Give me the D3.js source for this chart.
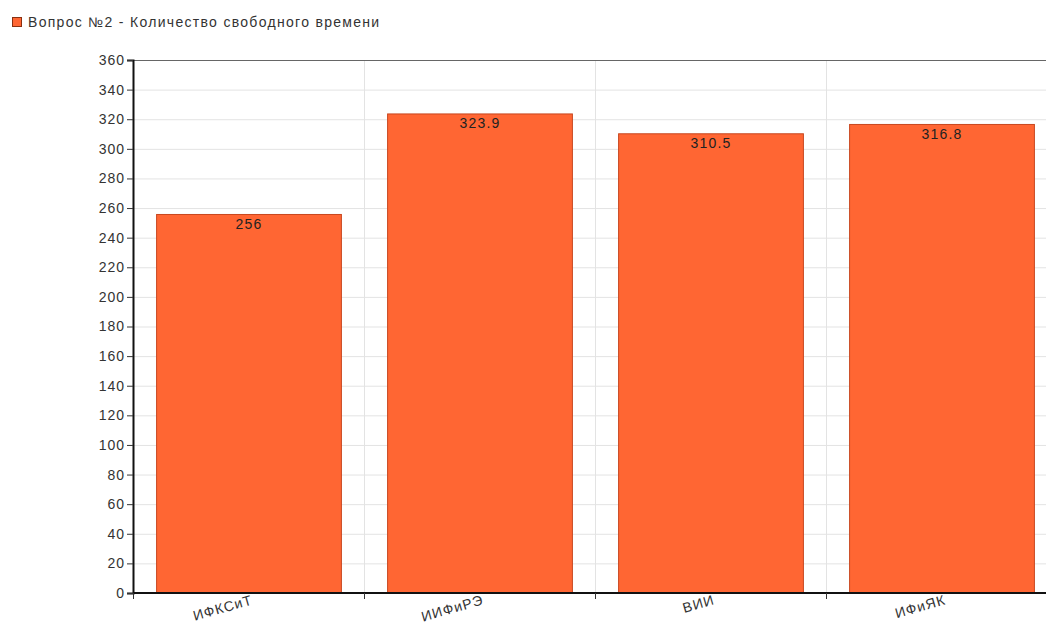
<!DOCTYPE html>
<html><head><meta charset="utf-8">
<script src="https://cdn.jsdelivr.net/npm/d3@7"></script>
<style>
html,body{margin:0;padding:0;background:#fff;overflow:hidden;}
svg{display:block;font-family:"Liberation Sans",Arial,sans-serif;}
</style></head>
<body>
<svg id="chart" width="1046" height="625"></svg>
<script>
const seriesName = "Вопрос №2 - Количество свободного времени";
const categories = ["ИФКСиТ", "ИИФиРЭ", "ВИИ", "ИФиЯК"];
const values = [256, 323.9, 310.5, 316.8];
const valueLabels = ["256", "323.9", "310.5", "316.8"];
const yTicks = d3.range(0, 361, 20);

const svg = d3.select("#chart");
const m = {left:133, top:60, right:1057, bottom:593};
const barColor = "#ff6633", barStroke = "#c8461e";

const x = d3.scaleBand().domain(categories).range([m.left, m.right]).paddingInner(0.2).paddingOuter(0.1);
const xb = d3.scaleLinear().domain([0, categories.length]).range([m.left, m.right]);
const y = d3.scaleLinear().domain([0, 360]).range([m.bottom, m.top]);

// grid
svg.append("g").selectAll("line.h").data(yTicks.slice(1)).join("line")
  .attr("x1", m.left).attr("x2", m.right).attr("y1", d=>y(d)+0.5).attr("y2", d=>y(d)+0.5)
  .attr("stroke", "#e3e3e3").attr("stroke-width", 1);
svg.append("g").selectAll("line.v").data(d3.range(1, categories.length+1)).join("line")
  .attr("x1", d=>xb(d)+0.5).attr("x2", d=>xb(d)+0.5).attr("y1", m.top).attr("y2", m.bottom)
  .attr("stroke", "#e3e3e3").attr("stroke-width", 1);

// top border
svg.append("line").attr("x1", m.left).attr("x2", m.right).attr("y1", m.top+0.5).attr("y2", m.top+0.5)
  .attr("stroke", "#666").attr("stroke-width", 1);

// bars
svg.append("g").selectAll("rect").data(values).join("rect")
  .attr("x", (d,i)=>x(categories[i])+0.5).attr("width", x.bandwidth())
  .attr("y", d=>y(d)+0.5).attr("height", d=>y(0)-y(d))
  .attr("fill", barColor).attr("stroke", barStroke).attr("stroke-width", 1);

// value labels
svg.append("g").selectAll("text").data(values).join("text")
  .attr("x", (d,i)=>x(categories[i])+x.bandwidth()/2+0.5).attr("y", d=>y(d)+15)
  .attr("text-anchor", "middle").attr("font-size", 14).attr("letter-spacing", 1.2).attr("fill", "#222")
  .text((d,i)=>valueLabels[i]);

// y axis
const yAxis = svg.append("g").attr("transform", `translate(${m.left},0)`)
  .call(d3.axisLeft(y).tickValues(yTicks).tickSize(6).tickPadding(2));
yAxis.select(".domain").attr("stroke", "#111").attr("stroke-width", 2);
yAxis.selectAll(".tick line").attr("stroke", "#333");
yAxis.selectAll(".tick text").attr("font-size", 14).attr("letter-spacing", 1).attr("fill", "#333")
  .attr("font-family", "Liberation Sans, Arial, sans-serif");

// x axis
const xAxisG = svg.append("g");
xAxisG.append("line").attr("x1", m.left).attr("x2", m.right).attr("y1", m.bottom).attr("y2", m.bottom)
  .attr("stroke", "#111").attr("stroke-width", 2);
xAxisG.selectAll("line.t").data(d3.range(0, categories.length+1)).join("line")
  .attr("x1", d=>xb(d)+0.5).attr("x2", d=>xb(d)+0.5).attr("y1", m.bottom).attr("y2", m.bottom+6)
  .attr("stroke", "#333");
xAxisG.selectAll("text").data(categories).join("text")
  .attr("transform", d=>`translate(${x(d)+x.bandwidth()/2+5},${m.bottom+11}) rotate(-16)`)
  .attr("text-anchor", "end").attr("font-size", 14).attr("letter-spacing", 1).attr("fill", "#333")
  .text(d=>d);

// legend
const lg = svg.append("g");
lg.append("rect").attr("x", 12.5).attr("y", 17.5).attr("width", 9).attr("height", 9)
  .attr("fill", barColor).attr("stroke", "#8a3010");
lg.append("text").attr("x", 28).attr("y", 27).attr("font-size", 14).attr("letter-spacing", 1.3)
  .attr("fill", "#333").text(seriesName);
</script>
</body></html>
